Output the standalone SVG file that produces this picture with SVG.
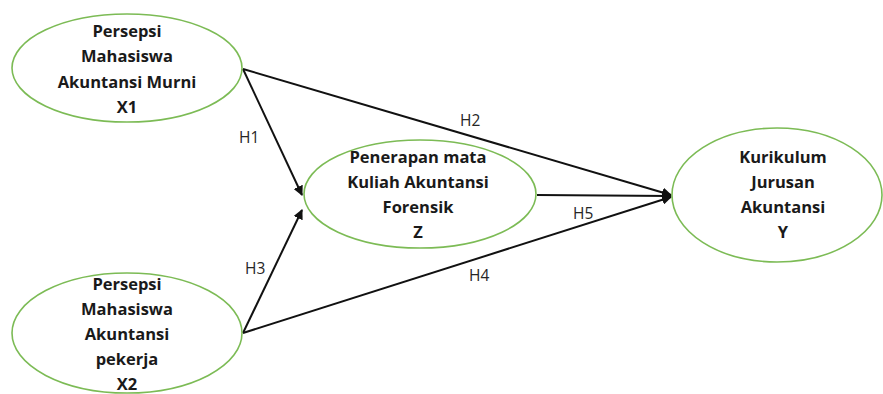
<svg xmlns="http://www.w3.org/2000/svg" width="883" height="394" viewBox="0 0 883 394">
  <style>
    .node ellipse { fill: #ffffff; stroke: #7cbb55; stroke-width: 1.6; }
    .node text { font-family: "Open Sans", "Liberation Sans", sans-serif; font-weight: 700; font-size: 16.5px; fill: #1a1a1a; text-anchor: middle; }
    .edges line { stroke: #111111; stroke-width: 2; marker-end: url(#arrow); }
    .lbl { font-family: "Open Sans", "Liberation Sans", sans-serif; font-size: 15.5px; fill: #262626; }
  </style>
  <defs>
    <marker id="arrow" viewBox="0 0 10 10" refX="9" refY="5" markerWidth="5" markerHeight="5" orient="auto" markerUnits="strokeWidth">
      <path d="M0,0 L10,5 L0,10 z" fill="#111111"/>
    </marker>
  </defs>
  <rect width="883" height="394" fill="#ffffff"/>

  <g class="edges">
    <line x1="243" y1="69" x2="671" y2="195"/>
    <line x1="243" y1="69" x2="302" y2="195"/>
    <line x1="243" y1="333" x2="302" y2="210"/>
    <line x1="243" y1="333" x2="671" y2="197"/>
    <line x1="537" y1="195" x2="671" y2="196"/>
  </g>
  <g id="edge-labels">
    <text class="lbl" x="239" y="143">H1</text>
    <text class="lbl" x="460" y="126">H2</text>
    <text class="lbl" x="245" y="274">H3</text>
    <text class="lbl" x="469" y="281">H4</text>
    <text class="lbl" x="573" y="219">H5</text>
  </g>

  <g id="x1" class="node">
    <ellipse cx="127" cy="68" rx="115" ry="54"/>
    <text x="127" y="37">Persepsi</text>
    <text x="127" y="62">Mahasiswa</text>
    <text x="127" y="88">Akuntansi Murni</text>
    <text x="127" y="113">X1</text>
  </g>

  <g id="x2" class="node">
    <ellipse cx="127" cy="333" rx="115" ry="60"/>
    <text x="127" y="290">Persepsi</text>
    <text x="127" y="315">Mahasiswa</text>
    <text x="127" y="340">Akuntansi</text>
    <text x="127" y="365">pekerja</text>
    <text x="127" y="390">X2</text>
  </g>

  <g id="z" class="node">
    <ellipse cx="420" cy="194" rx="116" ry="54"/>
    <text x="418" y="163">Penerapan mata</text>
    <text x="418" y="188">Kuliah Akuntansi</text>
    <text x="418" y="213">Forensik</text>
    <text x="418" y="238">Z</text>
  </g>

  <g id="y" class="node">
    <ellipse cx="777" cy="195" rx="105" ry="67"/>
    <text x="783" y="163">Kurikulum</text>
    <text x="783" y="188">Jurusan</text>
    <text x="783" y="213">Akuntansi</text>
    <text x="783" y="238">Y</text>
  </g>
</svg>
